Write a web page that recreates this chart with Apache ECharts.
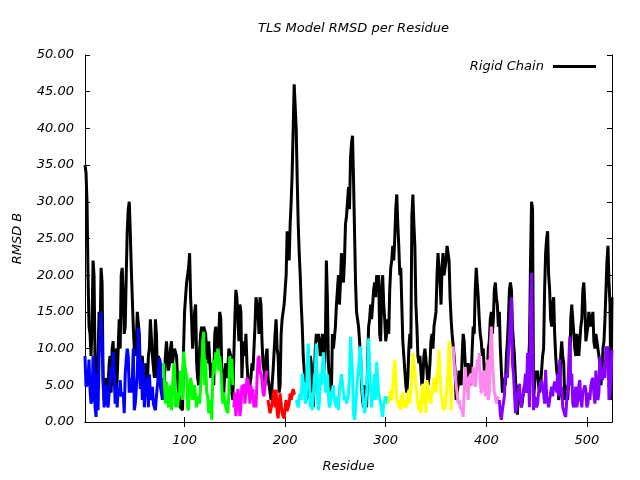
<!DOCTYPE html>
<html><head><meta charset="utf-8">
<script src="https://cdn.jsdelivr.net/npm/echarts@6/dist/echarts.min.js"></script>
<style>html,body{margin:0;padding:0;background:#fff}#c{width:640px;height:480px}</style>
</head><body><div id="c"></div>
<script>
const residueFirst = 1, residueLast = 525;

// "Rigid Chain" RMSD B at odd residues 1,3,...,525
const rigidChainOdd = [
35,30,13,9,22,8,3,15,21,6,4,3,8,4,11,10,6,14,20,17,13,26,30,21,13,9,15,12,8,6,8,5,10,14,9,14,6,8,4,3,
9,11,8,11,9,10,6,3,2,10,17,20,23,14,12,16,6,10,13,13,12,8,11,7,5,13,9,15,7,4,8,7,10,4,9,18,14,16,6,11,
12,6,5,8,7,17,15,17,11,7,9,6,4,5,7,14,9,5,14,16,20,24,27,34,46,40,27,20,13,7,3,4,9,5,2,12,12,9,12,7,
22,8,5,12,10,16,20,19,23,22,28,32,36,39,26,15,13,9,3,5,2,13,16,16,19,20,20,11,20,14,12,12,21,24,25,31,24,21,11,7,
4,10,10,31,24,13,8,7,6,10,7,6,11,10,14,20,23,16,23,20,24,22,14,12,7,3,7,5,12,8,7,7,6,13,18,21,14,11,10,7,
7,11,15,14,19,16,15,7,6,5,11,18,18,11,6,1,4,2,4,4,4,11,30,3,7,7,4,7,10,23,26,18,13,17,9,6,4,11,8,4,
3,7,16,12,9,11,11,14,19,11,13,15,14,11,12,10,8,7,11,18,24,16,17
];
// "Rigid Chain" RMSD B at even residues 2,4,...,524
const rigidChainEven = [
34,20,12,13,20,4,9,12,19,3,6,5,9,10,5,4,10,10,21,12,20,29,26,17,10,11,15,7,9,4,6,9,14,9,6,12,9,5,6,6,
11,7,10,8,10,9,4,2,1.6,15,19,21,17,10,15,8,5,12,10,13,9,11,6,8,12,13,12,14,5,7,6,10,9,3,14,17,11,15,10,9,
8,4,6,7,13,17,12,16,8,5,10,5,3,7,12,10,4,12,15,18,26,22,30,40,46,33,23,16,9,4,3,7,8,2,10,11,11,10,9,11,
17,6,4,10,13,18,16,23,19,27,30,29,38,33,19,14,11,5,2,4,8,14,14,18,17,19,12,18,16,11,14,18,22,22,29,27,20,16,9,5,
6,12,28,27,16,9,9,5,9,10,5,8,12,13,15,23,19,21,20,22,23,17,12,9,3,5,6,9,11,6,8,5,10,12,21,17,12,9,7,8,
10,14,12,18,17,13,10,4,6,9,14,19,13,9,3,5,3,2,5,6,8,22,29,5,6,5,5,9,18,25,20,14,16,12,7,3,9,9,3,5,
6,14,14,10,12,9,13,18,16,12,15,13,15,10,11,9,5,10,14,22,19,3
];

// per-domain RMSD values, concatenated in residue order (odd residues)
const domainOdd = [
9,5,8.5,2.5,9,2,6.5,9,15,5.5,3.5,2.5,4,7.5,9.5,2.5,2,3.5,3.5,4,6.5,10,4,4,10,2.5,6.5,10.5,8.5,8,4.5,6,6.5,3,2.5,1.6,5,8.7,4,
8,2.5,4,3.5,1.6,7.5,2,2,4.5,6,9.6,8,2,4.8,5.2,4.5,3.5,3,2.5,7,12.3,8.5,3.5,1.6,0.3,8.5,9.5,10,9,5,4,2,1.2,9,8.6,
2,0.8,4.5,0.8,5,5.2,3.9,5.7,2.5,3,2,2,8.5,7,5.7,3.5,6.5,
3,1.2,2.5,4.4,4.4,0.5,3.9,1.2,0.5,3,2,3.9,3.9,3.9,
3,2,3.9,6.6,5,3,10.7,2,1.6,6,10.7,1.6,6.6,7.5,7.5,5.3,3.5,2.5,4.4,3,2,1.6,5.3,5.3,3,2.5,4,11.6,6.6,0.3,3.9,7.5,10.3,4,1.2,3.9,11.4,3.9,2,6.6,8.2,3.9,2.5,0.7,3,3,
2.5,4.3,5,8.5,3,2,1.6,4,2,2,4.4,4.4,9.4,7,3.9,1.6,1.2,5.2,3.5,5.7,3.9,2.5,4.8,6,6.6,9.8,3.9,2,2,4.8,11,1.6,
10.3,6.6,3.9,3,2,0.7,7.5,4.8,6,6.6,7.5,4.8,8.5,9.4,3.9,7,3.5,8.5,3.9,13,6,3.5,3,
3,0.3,1.6,6.6,6,11.6,17,6.6,1.2,3.9,5.2,2,3.9,6.6,9.4,2,20.3,1.6,3,2.5,4.8,5.7,3.9,7.1,3.5,2,4.8,4.8,5.2,6.6,8.5,4.8,2,0.7,4.4,11.6,6.6,2,4.8,3,5.7,2,3.9,4.4,2.5,3,5.7,3.9,7,3,8.9,5.7,7.5,10.3,10.3,3.9,9.8
];
// per-domain RMSD values (even residues)
const domainEven = [
4.8,5.7,4.4,3,7,0.7,1.6,12,11,2,5,2,4,6,6.6,5,4.5,5.7,3.5,1.2,8.5,9,6,5.5,1.6,4.5,12.8,4.5,3,2,4,2,4,4.8,2,3.5,6.6,8,3,
5,5.5,2,5,1.6,8,4,2,7,3,8,6,1.6,6,3,5,2,3.5,5,11,5,4,1.2,3,6,6.5,8,7,7.5,2.5,3,2,4,6,5,
4,2.5,3,2,4,2.5,6,4.5,5,4.5,3,5.5,9,6.5,4,5,7,
2,1,3.5,2,1.5,2.5,2.5,1,2,1.5,2.5,3,4.5,4,
2.5,3.5,3,5.5,2.5,8,6,4,3.5,7,4,2.5,5,9.5,4,6.5,2,4,5,2.5,3.5,4.5,6.5,4,3.5,3,6,9,1,1.5,6,9,6,2.5,2,7,8,2,5,3,6,4,1.5,2.5,3.5,2.5,
3.5,3,7,6,2.5,3,3.5,2.5,3,3.5,2.5,6.5,8,5,2.5,3,4,2.5,1.2,4.5,3,4,6,4,7,6,3,1.6,3.5,7,8,5,
8,5,2.5,2,1.5,4,5.5,3,6,5,6.5,6,7,5.5,5,6.5,6,3,10,9,4,2.5,3.5,
1,1.6,3.5,6.5,9,14,8,4,2,4.5,3,3.5,5,4,6,15,9,3.5,2,4,5,4.5,2.5,3.5,2,4,3.5,5.5,4,3.5,4,2,1,3,8,5,2.5,3.5,2,5,3,4,5,2,4,5,6,2.5,5,4,7,6,6,8,3,6
];
// first residue of each domain
const domainStarts = [1,79,149,183,211,303,367,413];
const domainColors = ['#0000ff','#00ff00','#ff00ff','#ff0000','#00ffff','#ffff00','#ff88ee','#8800ff'];

const xTicks = [100,200,300,400,500];
const yMin = 0, yMax = 50, yStep = 5;

function valueAt(oddArr, evenArr, r) {
  return (r % 2 === 1) ? oddArr[(r - 1) / 2] : evenArr[r / 2 - 1];
}

const residues = [];
for (let r = residueFirst; r <= residueLast; r++) residues.push(r);

const font = {fontFamily:'DejaVu Sans', fontStyle:'italic', fontSize:13, color:'#000'};

const series = [{
  name:'Rigid Chain', type:'line', symbol:'none', z:2,
  lineStyle:{color:'#000', width:3, join:'miter', miterLimit:3}, itemStyle:{color:'#000'},
  data: residues.map(r => [r, valueAt(rigidChainOdd, rigidChainEven, r)])
}];
domainStarts.forEach((s,k)=>{
  const e = k+1 < domainStarts.length ? domainStarts[k+1] : residueLast+1;
  const data = residues.filter(r => r >= s && r < e).map(r => [r, valueAt(domainOdd, domainEven, r)]);
  series.push({name:'domain'+(k+1), type:'line', symbol:'none', z:3,
    lineStyle:{color:domainColors[k], width:3, join:'miter', miterLimit:3}, itemStyle:{color:domainColors[k]}, data});
});

const chart = echarts.init(document.getElementById('c'), null, {renderer:'canvas'});
chart.setOption({
  animation:false,
  backgroundColor:'#fff',
  title:{text:'TLS Model RMSD per Residue', left:253, top:17,
    textStyle:Object.assign({}, font, {fontWeight:'normal'})},
  legend:{data:['Rigid Chain'], right:44, top:60, padding:0, align:'right', icon:'rect',
    itemWidth:43, itemHeight:3, formatter:n=>n+' ', textStyle:font},
  grid:{left:85, right:28, top:55, bottom:58, show:false},
  xAxis:[{
    type:'value', min:residueFirst, max:residueLast, position:'bottom',
    name:'Residue', nameLocation:'middle', nameGap:38, nameTextStyle:font,
    axisLine:{show:true, lineStyle:{color:'#000', width:1}},
    axisTick:{inside:true, length:5, customValues:xTicks, lineStyle:{color:'#000'}},
    axisLabel:Object.assign({customValues:xTicks, margin:12}, font),
    splitLine:{show:false}
  },{
    type:'value', min:residueFirst, max:residueLast, position:'top',
    axisLine:{show:true, lineStyle:{color:'#000', width:1}},
    axisTick:{inside:true, length:5, customValues:xTicks, lineStyle:{color:'#000'}},
    axisLabel:{show:false}, splitLine:{show:false}
  }],
  yAxis:[{
    type:'value', min:yMin, max:yMax, interval:yStep, position:'left',
    name:'RMSD B', nameLocation:'middle', nameGap:61, nameRotate:90, nameTextStyle:font,
    axisLine:{show:true, lineStyle:{color:'#000', width:1}},
    axisTick:{inside:true, length:5, lineStyle:{color:'#000'}},
    axisLabel:Object.assign({margin:11, formatter:v=>v.toFixed(2)}, font),
    splitLine:{show:false}
  },{
    type:'value', min:yMin, max:yMax, interval:yStep, position:'right',
    axisLine:{show:true, lineStyle:{color:'#000', width:1}},
    axisTick:{inside:true, length:5, lineStyle:{color:'#000'}},
    axisLabel:{show:false}, splitLine:{show:false}
  }],
  series
});
</script></body></html>
